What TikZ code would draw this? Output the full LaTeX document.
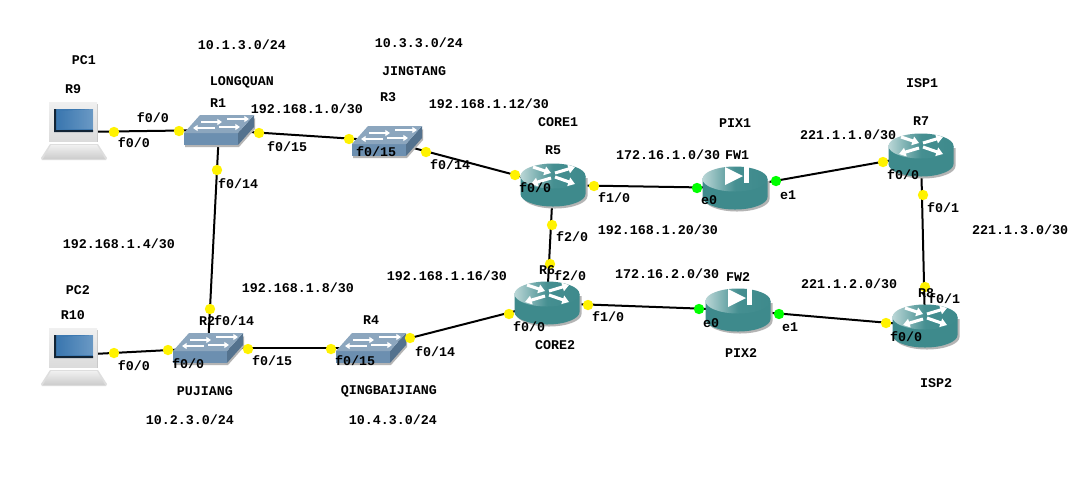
\documentclass[tikz,border=0pt]{standalone}
\usepackage{fontspec}
\setmainfont{Liberation Mono}
\usetikzlibrary{arrows.meta}
\definecolor{teal1}{HTML}{3E8A8C}
\definecolor{teal2}{HTML}{BAD6D6}
\definecolor{teal3}{HTML}{458F91}
\definecolor{sw1}{HTML}{8CA6BE}
\definecolor{sw2}{HTML}{6C8FB0}
\definecolor{sw3}{HTML}{54728E}
\definecolor{shad}{HTML}{B4B4B4}
\definecolor{scr1}{HTML}{3C78B0}
\definecolor{scr2}{HTML}{7FA8CE}
\tikzset{
  lbl/.style={font=\bfseries\fontsize{10pt}{10pt}\selectfont,inner sep=0pt,text=black},
  link/.style={draw=black,line width=1.5pt},
  ydot/.style={circle,fill=yellow,draw=none,minimum size=7.8pt,inner sep=0pt},
  gdot/.style={circle,fill=green,draw=none,minimum size=7.8pt,inner sep=0pt},
  dev/.style={inner sep=0pt,minimum size=0pt},
  warrow/.style={draw=white,line width=2.3pt,-{Triangle[width=6.5pt,length=5pt]}},
  swarrow/.style={draw=white,line width=1.5pt,-{Triangle[width=4.5pt,length=3.5pt]}},
  cyl/.pic={
    \fill[shad] (-30.5,-7) -- (34.5,-7) -- (34.5,11) arc[x radius=32.5,y radius=12.5,start angle=0,end angle=180] -- cycle;
    \fill[teal1] (-32.5,-9) -- (32.5,-9) -- (32.5,9) arc[x radius=32.5,y radius=12.5,start angle=0,end angle=180] -- cycle;
    \shade[left color=teal2,right color=teal1,middle color=teal3] (0,-9) ellipse[x radius=32.5,y radius=12.5];
  },
  router/.pic={
    \pic {cyl};
    \draw[warrow] (-20,-18) -- (-2,-12);
    \draw[warrow] (-2,-7) -- (-22,-1);
    \draw[warrow] (2,-12) -- (22,-18);
    \draw[warrow] (2,-8) -- (22,-1);
  },
  firewall/.pic={
    \pic {cyl};
    \fill[white] (-10,-21) -- (-10,-3) -- (8,-12) -- cycle;
    \fill[white] (9,-21) rectangle (14,-5);
  },
  switch/.pic={
    \fill[shad] (-34,6) -- (21,6) -- (36,-12) -- (36,-1) -- (20,17) -- (-34,17) -- cycle;
    \fill[sw2] (-35,3) rectangle (19,15);
    \fill[sw3] (19,3) -- (35,-15) -- (35,-3) -- (19,15) -- cycle;
    \fill[sw1] (-35,3) -- (-19,-15) -- (35,-15) -- (19,3) -- cycle;
    \draw[swarrow] (-18,-8) -- (3,-8);
    \draw[swarrow] (8,-11) -- (30,-11);
    \draw[swarrow] (-4,-2) -- (-26,-2);
    \draw[swarrow] (0,-3) -- (21,-3);
  },
  pcbox/.pic={
    \fill[black!13] (-32,29) -- (32,29) -- (33,27) -- (24,13) -- (-24,13) -- (-33,27) -- cycle;
    \shade[top color=black!6,bottom color=black!20] (-31,28) -- (31,28) -- (23,14) -- (-23,14) -- cycle;
    \fill[black!22] (-24,-27) rectangle (24,11);
    \shade[top color=black!6,bottom color=black!14] (-25,-29) rectangle (23,10);
    \fill[scr1] (-20,-22) rectangle (19,1);
    \shade[left color=scr1,right color=scr2,opacity=.7] (-14,-20) -- (19,-22) -- (19,-2) -- (-16,-2) -- cycle;
    \fill[black!70!scr1] (-20,-22) -- (-20,1) -- (19,1) -- (19,-1) -- (-18,-1) -- (-18,-22) -- cycle;
  },
}
\begin{document}
\begin{tikzpicture}[x=0.75pt,y=-0.75pt]
\useasboundingbox (0,0) rectangle (1077,480);
\fill[white] (0,0) rectangle (1077,480);
% device anchors
\node[dev] (nR9) at (74,132) {};
\node[dev] (nR10) at (74,355) {};
\node[dev] (nR1) at (219,130) {};
\node[dev] (nR3) at (387,141) {};
\node[dev] (nR2) at (208,348) {};
\node[dev] (nR4) at (371,348) {};
\node[dev] (nR5) at (553,185) {};
\node[dev] (nR6) at (547,303) {};
\node[dev] (nFW1) at (735,188) {};
\node[dev] (nFW2) at (738,310) {};
\node[dev] (nR7) at (921,155) {};
\node[dev] (nR8) at (925,326) {};
% connectors
\draw[link] (nR9) -- (nR1);
\draw[link] (nR1) -- (nR3);
\draw[link] (nR1) -- (nR2);
\draw[link] (nR3) -- (nR5);
\draw[link] (nR5) -- (nFW1);
\draw[link] (nFW1) -- (nR7);
\draw[link] (nR7) -- (nR8);
\draw[link] (nR5) -- (nR6);
\draw[link] (nR6) -- (nFW2);
\draw[link] (nFW2) -- (nR8);
\draw[link] (nR6) -- (nR4);
\draw[link] (nR4) -- (nR2);
\draw[link] (nR10) -- (nR2);
% devices
\pic at (74,131) {pcbox};
\pic at (74,357) {pcbox};
\pic at (nR1) {switch};
\pic at (nR3) {switch};
\pic at (nR2) {switch};
\pic at (nR4) {switch};
\pic at (nR5) {router};
\pic at (nR6) {router};
\pic at (nR7) {router};
\pic at (nR8) {router};
\pic at (nFW1) {firewall};
\pic at (nFW2) {firewall};
% port dots
\node[ydot] (d1) at (114,132) {};
\node[ydot] (d2) at (179,131) {};
\node[ydot] (d3) at (259,133) {};
\node[ydot] (d4) at (349,139) {};
\node[ydot] (d5) at (217,170) {};
\node[ydot] (d6) at (210,309) {};
\node[ydot] (d7) at (426,152) {};
\node[ydot] (d8) at (515,175) {};
\node[ydot] (d9) at (594,186) {};
\node[gdot] (d10) at (697,188) {};
\node[gdot] (d11) at (776,181) {};
\node[ydot] (d12) at (883,162) {};
\node[ydot] (d13) at (923,195) {};
\node[ydot] (d14) at (925,287) {};
\node[ydot] (d15) at (552,225) {};
\node[ydot] (d16) at (550,264) {};
\node[ydot] (d17) at (588,305) {};
\node[gdot] (d18) at (699,309) {};
\node[gdot] (d19) at (779,314) {};
\node[ydot] (d20) at (886,323) {};
\node[ydot] (d21) at (509,314) {};
\node[ydot] (d22) at (410,338) {};
\node[ydot] (d23) at (248,349) {};
\node[ydot] (d24) at (331,349) {};
\node[ydot] (d25) at (114,353) {};
\node[ydot] (d26) at (168,350) {};
% labels
\node[lbl] (t1) at (84,60) {PC1};
\node[lbl] (t2) at (242,45) {10.1.3.0/24};
\node[lbl] (t3) at (419,43) {10.3.3.0/24};
\node[lbl] (t4) at (414,71) {JINGTANG};
\node[lbl] (t5) at (242,82) {LONGQUAN};
\node[lbl] (t6) at (73,89) {R9};
\node[lbl] (t7) at (218,103) {R1};
\node[lbl] (t8) at (307,109) {192.168.1.0/30};
\node[lbl] (t9) at (388,97) {R3};
\node[lbl] (t10) at (489,104) {192.168.1.12/30};
\node[lbl] (t11) at (558,122) {CORE1};
\node[lbl] (t12) at (735,123) {PIX1};
\node[lbl] (t13) at (922,83) {ISP1};
\node[lbl] (t14) at (921,121) {R7};
\node[lbl] (t15) at (848,135) {221.1.1.0/30};
\node[lbl] (t16) at (153,118) {f0/0};
\node[lbl] (t17) at (134,143) {f0/0};
\node[lbl] (t18) at (287,147) {f0/15};
\node[lbl] (t19) at (376,152) {f0/15};
\node[lbl] (t20) at (450,165) {f0/14};
\node[lbl] (t21) at (668,155) {172.16.1.0/30};
\node[lbl] (t22) at (737,155) {FW1};
\node[lbl] (t23) at (553,150) {R5};
\node[lbl] (t24) at (535,188) {f0/0};
\node[lbl] (t25) at (614,198) {f1/0};
\node[lbl] (t26) at (709,200) {e0};
\node[lbl] (t27) at (788,195) {e1};
\node[lbl] (t28) at (903,175) {f0/0};
\node[lbl] (t29) at (943,208) {f0/1};
\node[lbl] (t30) at (238,184) {f0/14};
\node[lbl] (t31) at (1020,230) {221.1.3.0/30};
\node[lbl] (t32) at (658,230) {192.168.1.20/30};
\node[lbl] (t33) at (572,237) {f2/0};
\node[lbl] (t34) at (119,244) {192.168.1.4/30};
\node[lbl] (t35) at (298,288) {192.168.1.8/30};
\node[lbl] (t36) at (447,276) {192.168.1.16/30};
\node[lbl] (t37) at (547,270) {R6};
\node[lbl] (t38) at (570,276) {f2/0};
\node[lbl] (t39) at (667,274) {172.16.2.0/30};
\node[lbl] (t40) at (738,277) {FW2};
\node[lbl] (t41) at (849,284) {221.1.2.0/30};
\node[lbl] (t42) at (78,290) {PC2};
\node[lbl] (t43) at (926,293) {R8};
\node[lbl] (t44) at (944,299) {f0/1};
\node[lbl] (t45) at (73,315) {R10};
\node[lbl] (t46) at (207,321) {R2};
\node[lbl] (t47) at (234,321) {f0/14};
\node[lbl] (t48) at (371,320) {R4};
\node[lbl] (t49) at (529,327) {f0/0};
\node[lbl] (t50) at (608,317) {f1/0};
\node[lbl] (t51) at (711,323) {e0};
\node[lbl] (t52) at (790,327) {e1};
\node[lbl] (t53) at (906,337) {f0/0};
\node[lbl] (t54) at (555,345) {CORE2};
\node[lbl] (t55) at (741,353) {PIX2};
\node[lbl] (t56) at (435,352) {f0/14};
\node[lbl] (t57) at (134,366) {f0/0};
\node[lbl] (t58) at (188,364) {f0/0};
\node[lbl] (t59) at (272,361) {f0/15};
\node[lbl] (t60) at (355,361) {f0/15};
\node[lbl] (t61) at (205,391) {PUJIANG};
\node[lbl] (t62) at (389,391) {QINGBAIJIANG};
\node[lbl] (t63) at (936,383) {ISP2};
\node[lbl] (t64) at (190,420) {10.2.3.0/24};
\node[lbl] (t65) at (393,420) {10.4.3.0/24};
\end{tikzpicture}
\end{document}
